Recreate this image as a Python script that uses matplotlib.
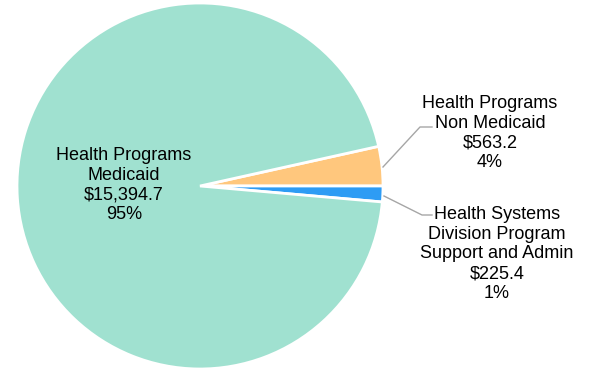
import matplotlib.pyplot as plt

plt.rcParams["font.family"] = ["Liberation Sans", "DejaVu Sans"]

# budget by program area, $ millions
labels = ["Health Programs\nNon Medicaid",
          "Health Systems\nDivision Program\nSupport and Admin",
          "Health Programs\nMedicaid"]
values = [563.2, 225.4, 15394.7]
pct_labels = ["4%", "1%", "95%"]
colors = ["#FFC77D", "#2E9CF4", "#A0E1D0"]

W, H = 597, 370
fig = plt.figure(figsize=(W / 100, H / 100), dpi=100)
ax = fig.add_axes([0, 0, 1, 1])

cx, cy, r = 200, H - 186, 183
start = 360 * values[0] / sum(values)
ax.pie(values, colors=colors, center=(cx, cy), radius=r,
       startangle=start, counterclock=False, explode=[0.02, 0, 0],
       wedgeprops=dict(edgecolor="white", linewidth=2), frame=True)
ax.set_xlim(0, W)
ax.set_ylim(0, H)
ax.set_aspect("equal")
ax.axis("off")

texts = [f"{lab}\n${v:,.1f}\n{p}" for lab, v, p in zip(labels, values, pct_labels)]
fs = 13
ax.text(490, H - 133, texts[0], ha="center", va="center", fontsize=fs,
        linespacing=1.2)
ax.text(497, H - 254, texts[1], ha="center", va="center", fontsize=fs,
        linespacing=1.2)
ax.text(124, H - 185, texts[2], ha="center", va="center", fontsize=fs,
        linespacing=1.2)

# leader lines
ax.plot([383, 420, 432], [H - 167, H - 127, H - 127], color="#A6A6A6", lw=1)
ax.plot([384, 422, 432], [H - 196, H - 215, H - 215], color="#A6A6A6", lw=1)

fig.savefig("out.png", dpi=100)
